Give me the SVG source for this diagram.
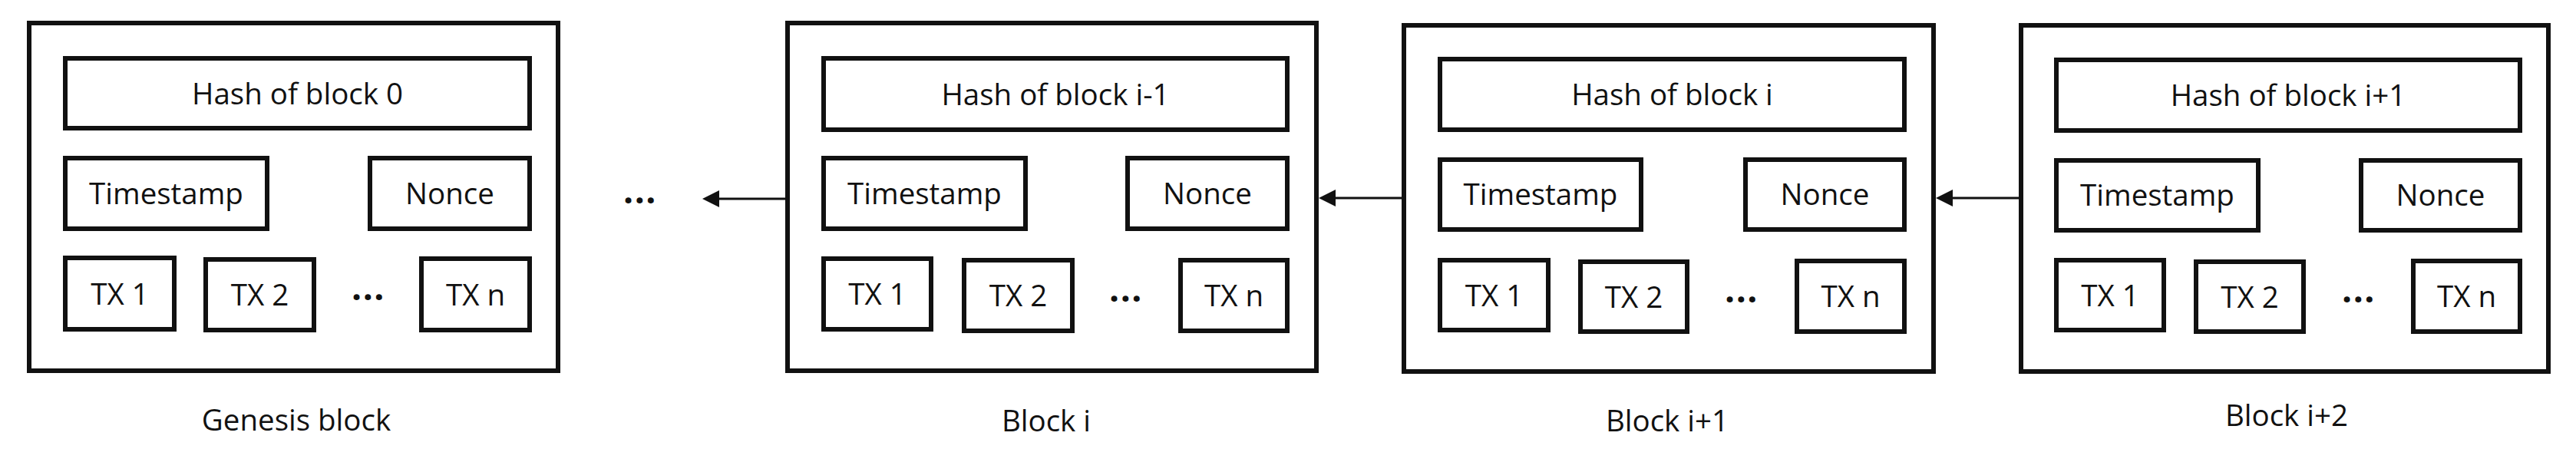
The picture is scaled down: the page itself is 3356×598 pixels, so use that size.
<svg xmlns="http://www.w3.org/2000/svg" width="3356" height="598" viewBox="0 0 3356 598">
<style>
  .box { fill: #ffffff; stroke: #111111; stroke-width: 6; }
  .t { font-family: "Open Sans", "Noto Sans", "Liberation Sans", sans-serif; font-size: 38.5px; fill: #111111; text-anchor: middle; }
  .dots { font-family: "Open Sans", "Noto Sans", "Liberation Sans", sans-serif; font-size: 46px; font-weight: bold; fill: #111111; text-anchor: middle; letter-spacing: 1.5px; }
  .conn { stroke: #111111; stroke-width: 3; fill: none; }
</style>
<defs>
  <marker id="arrow" markerUnits="userSpaceOnUse" viewBox="0 0 24 24" markerWidth="24" markerHeight="24" refX="12" refY="12" orient="auto">
    <path d="M0,1 L22,12 L0,23 Z" fill="#111111"/>
  </marker>
</defs>
<rect width="3356" height="598" fill="#ffffff"/>

<g id="genesis-block">
  <rect class="box" x="38" y="30" width="689" height="453"/>
  <rect class="box" x="85" y="76" width="605" height="91"/>
  <text class="t" x="387.5" y="135.5">Hash of block 0</text>
  <rect class="box" x="85" y="206" width="263" height="92"/>
  <text class="t" x="216.5" y="265.5">Timestamp</text>
  <rect class="box" x="482" y="206" width="208" height="92"/>
  <text class="t" x="586" y="265.5">Nonce</text>
  <rect class="box" x="85" y="336" width="142" height="93"/>
  <text class="t" x="156" y="396.5">TX 1</text>
  <rect class="box" x="268" y="338" width="141" height="92"/>
  <text class="t" x="338.5" y="398">TX 2</text>
  <text class="dots" x="480" y="391">...</text>
  <rect class="box" x="549" y="337" width="141" height="93"/>
  <text class="t" x="619.5" y="397.5">TX n</text>
  <text class="t" x="386" y="561">Genesis block</text>
</g>

<text class="dots" x="834" y="265">...</text>

<g id="block-i">
  <rect class="box" x="1026" y="30" width="689" height="453"/>
  <rect class="box" x="1073" y="76" width="604" height="93"/>
  <text class="t" x="1375" y="136.5">Hash of block i-1</text>
  <rect class="box" x="1073" y="206" width="263" height="92"/>
  <text class="t" x="1204.5" y="265.5">Timestamp</text>
  <rect class="box" x="1469" y="206" width="208" height="92"/>
  <text class="t" x="1573" y="265.5">Nonce</text>
  <rect class="box" x="1073" y="337" width="140" height="92"/>
  <text class="t" x="1143" y="397">TX 1</text>
  <rect class="box" x="1256" y="339" width="141" height="92"/>
  <text class="t" x="1326.5" y="399">TX 2</text>
  <text class="dots" x="1467" y="393">...</text>
  <rect class="box" x="1538" y="339" width="139" height="92"/>
  <text class="t" x="1607.5" y="399">TX n</text>
  <text class="t" x="1363" y="562">Block i</text>
</g>

<g id="block-i1">
  <rect class="box" x="1829" y="33" width="690" height="451"/>
  <rect class="box" x="1876" y="77" width="605" height="92"/>
  <text class="t" x="2178.5" y="137">Hash of block i</text>
  <rect class="box" x="1876" y="208" width="262" height="91"/>
  <text class="t" x="2007" y="267">Timestamp</text>
  <rect class="box" x="2274" y="208" width="207" height="91"/>
  <text class="t" x="2377.5" y="267">Nonce</text>
  <rect class="box" x="1876" y="339" width="141" height="91"/>
  <text class="t" x="1946.5" y="398.5">TX 1</text>
  <rect class="box" x="2059" y="341" width="139" height="91"/>
  <text class="t" x="2128.5" y="400.5">TX 2</text>
  <text class="dots" x="2269" y="394">...</text>
  <rect class="box" x="2341" y="340" width="140" height="92"/>
  <text class="t" x="2411" y="400">TX n</text>
  <text class="t" x="2172" y="562">Block i+1</text>
</g>

<g id="block-i2">
  <rect class="box" x="2633" y="33" width="687" height="451"/>
  <rect class="box" x="2679" y="78" width="604" height="92"/>
  <text class="t" x="2981" y="138">Hash of block i+1</text>
  <rect class="box" x="2679" y="209" width="263" height="91"/>
  <text class="t" x="2810.5" y="268">Timestamp</text>
  <rect class="box" x="3076" y="209" width="207" height="91"/>
  <text class="t" x="3179.5" y="268">Nonce</text>
  <rect class="box" x="2679" y="339" width="140" height="91"/>
  <text class="t" x="2749" y="398.5">TX 1</text>
  <rect class="box" x="2861" y="341" width="140" height="91"/>
  <text class="t" x="2931" y="400.5">TX 2</text>
  <text class="dots" x="3073" y="394">...</text>
  <rect class="box" x="3144" y="340" width="139" height="92"/>
  <text class="t" x="3213.5" y="400">TX n</text>
  <text class="t" x="2979" y="555">Block i+2</text>
</g>

<g id="connectors">
  <line class="conn" x1="1023" y1="259" x2="925" y2="259" marker-end="url(#arrow)"/>
  <line class="conn" x1="1826" y1="258" x2="1728" y2="258" marker-end="url(#arrow)"/>
  <line class="conn" x1="2630" y1="258" x2="2532" y2="258" marker-end="url(#arrow)"/>
</g>
</svg>
